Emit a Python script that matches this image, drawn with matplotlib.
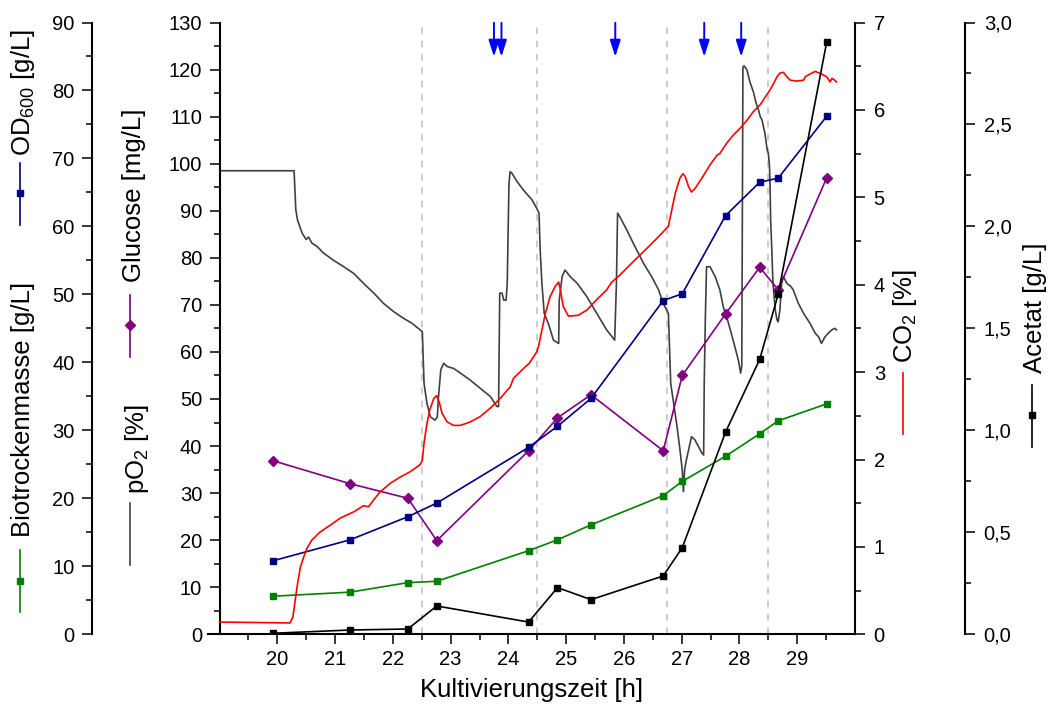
import matplotlib
matplotlib.use('Agg')
import matplotlib.pyplot as plt
from matplotlib.ticker import MultipleLocator, FixedLocator, FuncFormatter
from matplotlib.lines import Line2D

plt.rcParams['font.family'] = ['Liberation Sans', 'DejaVu Sans']
plt.rcParams['mathtext.default'] = 'regular'

# ---------------- data ----------------
sample_time = [19.92, 21.26, 22.26, 22.76, 24.35, 24.85, 25.43, 26.68, 27.01, 27.76, 28.35, 28.67, 29.51]
od600 = [10.8, 13.9, 17.3, 19.3, 27.5, 30.6, 34.7, 49.1, 50.1, 61.6, 66.5, 67.1, 76.2]
biotrockenmasse = [5.6, 6.2, 7.6, 7.8, 12.3, 13.9, 16.1, 20.4, 22.5, 26.2, 29.5, 31.4, 33.9]
glucose = [36.9, 32.0, 28.9, 19.9, 39.0, 46.0, 50.9, 39.0, 55.0, 68.1, 78.0, 73.2, 97.0]
acetat = [0.005, 0.021, 0.026, 0.139, 0.06, 0.229, 0.170, 0.286, 0.425, 0.992, 1.348, 1.667, 2.904]

po2_trace = [
    (19.01, 98.5), (20.29, 98.5), (20.32, 90.2), (20.35, 88.0), (20.43, 85.2), (20.50, 83.9),
    (20.54, 84.4), (20.60, 83.1), (20.69, 82.4), (20.80, 81.0), (20.97, 79.5), (21.15, 78.1),
    (21.32, 76.7), (21.49, 74.6), (21.67, 72.5), (21.84, 70.3), (22.01, 68.6), (22.19, 67.1),
    (22.33, 66.1), (22.47, 64.7), (22.51, 64.3), (22.52, 60.4), (22.54, 53.3), (22.59, 49.1),
    (22.65, 46.2), (22.73, 45.5), (22.77, 46.2), (22.79, 50.5), (22.83, 56.2), (22.88, 57.6),
    (22.94, 56.9), (23.05, 56.5), (23.17, 55.5), (23.34, 54.0), (23.51, 52.3), (23.69, 50.5),
    (23.80, 48.4), (23.83, 48.4), (23.85, 72.5), (23.89, 72.5), (23.92, 71.0), (23.96, 71.0),
    (23.98, 74.6), (24.01, 95.8), (24.03, 98.3), (24.06, 98.0), (24.15, 96.2), (24.26, 94.4),
    (24.41, 92.3), (24.49, 90.5), (24.53, 89.5), (24.55, 81.7), (24.58, 74.6), (24.62, 68.2),
    (24.69, 66.1), (24.78, 62.5), (24.87, 61.8), (24.88, 71.0), (24.93, 76.0), (24.98, 77.4),
    (25.07, 76.0), (25.19, 74.6), (25.36, 71.7), (25.53, 68.2), (25.70, 64.7), (25.84, 62.5),
    (25.87, 74.6), (25.89, 89.5), (25.93, 88.7), (26.05, 85.9), (26.19, 82.4), (26.34, 78.8),
    (26.48, 76.0), (26.60, 73.2), (26.68, 70.3), (26.77, 68.2), (26.79, 60.4), (26.81, 53.3),
    (26.86, 49.1), (26.92, 44.1), (26.97, 39.2), (27.01, 34.9), (27.03, 30.3), (27.05, 34.9),
    (27.08, 37.0), (27.12, 39.2), (27.17, 42.0), (27.23, 41.3), (27.29, 39.9), (27.35, 38.5),
    (27.38, 38.1), (27.39, 53.3), (27.41, 67.5), (27.43, 78.1), (27.49, 78.1), (27.58, 76.0),
    (27.66, 73.2), (27.72, 69.6), (27.81, 66.1), (27.89, 62.5), (27.98, 58.3), (28.02, 55.5),
    (28.04, 57.0), (28.06, 120.5), (28.08, 120.8), (28.13, 119.9), (28.18, 117.4), (28.24, 115.3),
    (28.29, 112.8), (28.33, 111.4), (28.36, 110.0), (28.39, 109.3), (28.44, 106.5), (28.48, 102.9),
    (28.50, 102.2), (28.52, 99.4), (28.53, 95.1), (28.54, 88.0), (28.56, 81.7), (28.58, 74.6),
    (28.62, 68.9), (28.65, 66.8), (28.67, 66.4), (28.70, 68.9), (28.73, 74.6), (28.76, 76.0),
    (28.82, 74.6), (28.89, 73.9), (28.93, 73.2), (29.02, 70.3), (29.11, 68.2), (29.22, 66.1),
    (29.31, 64.0), (29.37, 63.2), (29.42, 61.8), (29.48, 63.2), (29.54, 64.0), (29.60, 64.7),
    (29.65, 65.0), (29.68, 64.7),
]

co2_trace = [
    (19.01, 0.14), (20.22, 0.13), (20.27, 0.20), (20.31, 0.39), (20.35, 0.58), (20.40, 0.77),
    (20.46, 0.89), (20.51, 0.98), (20.60, 1.08), (20.74, 1.17), (20.92, 1.25), (21.09, 1.33),
    (21.32, 1.40), (21.49, 1.47), (21.58, 1.46), (21.67, 1.54), (21.78, 1.63), (21.96, 1.73),
    (22.13, 1.80), (22.30, 1.86), (22.47, 1.94), (22.51, 1.99), (22.54, 2.19), (22.59, 2.41),
    (22.64, 2.57), (22.71, 2.70), (22.76, 2.73), (22.81, 2.64), (22.85, 2.53), (22.94, 2.43),
    (23.05, 2.39), (23.17, 2.39), (23.34, 2.43), (23.51, 2.49), (23.69, 2.59), (23.86, 2.70),
    (24.03, 2.83), (24.09, 2.93), (24.26, 3.04), (24.36, 3.10), (24.49, 3.23), (24.52, 3.29),
    (24.58, 3.48), (24.64, 3.67), (24.72, 3.86), (24.81, 3.98), (24.87, 4.03), (24.90, 3.94),
    (24.95, 3.75), (25.04, 3.64), (25.21, 3.65), (25.36, 3.71), (25.53, 3.83), (25.70, 3.94),
    (25.79, 4.03), (25.93, 4.11), (26.11, 4.23), (26.28, 4.34), (26.45, 4.45), (26.63, 4.57),
    (26.77, 4.67), (26.83, 4.86), (26.89, 5.05), (26.97, 5.22), (27.02, 5.27), (27.06, 5.24),
    (27.12, 5.12), (27.17, 5.06), (27.23, 5.10), (27.35, 5.22), (27.49, 5.37), (27.61, 5.48),
    (27.66, 5.50), (27.78, 5.62), (27.89, 5.71), (28.01, 5.79), (28.13, 5.88), (28.24, 5.98),
    (28.36, 6.06), (28.47, 6.17), (28.53, 6.23), (28.59, 6.30), (28.65, 6.38), (28.70, 6.42),
    (28.76, 6.43), (28.82, 6.38), (28.88, 6.34), (28.99, 6.33), (29.11, 6.34), (29.14, 6.38),
    (29.22, 6.41), (29.31, 6.44), (29.39, 6.42), (29.51, 6.38), (29.57, 6.32), (29.60, 6.36),
    (29.63, 6.35), (29.68, 6.32),
]

phase_boundaries = [22.5, 24.5, 26.75, 28.5]
feed_times = [23.75, 23.88, 25.85, 27.39, 28.03]
x_major = [20, 21, 22, 23, 24, 25, 26, 27, 28, 29]
x_minor = [19.5, 20.5, 21.5, 22.5, 23.5, 24.5, 25.5, 26.5, 27.5, 28.5, 29.5]

# ---------------- styles ----------------
C_OD = '#000080'
C_BTM = '#008000'
C_GLC = '#800080'
C_PO2 = '#404040'
C_CO2 = '#ff0000'
C_AC = '#000000'
C_ARROW = '#0000ff'
TICK_FS = 14.5
LABEL_FS = 18.5
SPINE_LW = 1.5
LW = 1.2

W, H = 1052, 707
fig = plt.figure(figsize=(W / 100, H / 100), dpi=100)
ax = fig.add_axes([208 / W, 1 - 634.3 / H, 647 / W, 611.8 / H])
ax_od = ax.twinx()
ax_co2 = ax.twinx()
ax_ac = ax.twinx()


def style_axis(a, side, pos, ylim, major, minor, fmt=None):
    for s in a.spines.values():
        s.set_visible(False)
    a.spines[side].set_visible(True)
    a.spines[side].set_position(pos)
    a.spines[side].set_linewidth(SPINE_LW)
    a.set_ylim(*ylim)
    a.yaxis.set_major_locator(MultipleLocator(major))
    a.yaxis.set_minor_locator(MultipleLocator(minor))
    if side == 'left':
        a.yaxis.tick_left()
    else:
        a.yaxis.tick_right()
    a.tick_params(axis='y', which='major', direction='out', length=7.5, width=1.1,
                  labelsize=TICK_FS, pad=5)
    a.tick_params(axis='y', which='minor', direction='out', length=4.3, width=1.1)
    if fmt is not None:
        a.yaxis.set_major_formatter(fmt)


# host axis: glucose / pO2
for s in ['top', 'right']:
    ax.spines[s].set_visible(False)
ax.spines['left'].set_position(('data', 19.0))
ax.spines['left'].set_linewidth(SPINE_LW)
ax.spines['bottom'].set_linewidth(SPINE_LW)
ax.set_xlim(18.8, 30.0)
ax.set_ylim(0, 130)
ax.yaxis.set_major_locator(MultipleLocator(10))
ax.yaxis.set_minor_locator(MultipleLocator(5))
ax.xaxis.set_major_locator(FixedLocator(x_major))
ax.xaxis.set_minor_locator(FixedLocator(x_minor))
ax.tick_params(axis='both', which='major', direction='out', length=7.5, width=1.1,
               labelsize=TICK_FS)
ax.tick_params(axis='y', which='major', pad=5)
ax.tick_params(axis='x', which='major', pad=4)
ax.tick_params(axis='both', which='minor', direction='out', length=4.3, width=1.1)
ax.set_xlabel('Kultivierungszeit [h]', fontsize=LABEL_FS, labelpad=6)

style_axis(ax_od, 'left', ('axes', -0.1795), (0, 90), 10, 5)
style_axis(ax_co2, 'right', ('axes', 1.0), (0, 7), 1, 0.5)
style_axis(ax_ac, 'right', ('axes', 1.170), (0, 3), 0.5, 0.25,
           FuncFormatter(lambda v, p: f'{v:.1f}'.replace('.', ',')))
ax_co2.tick_params(axis='y', which='major', pad=6)
ax_ac.tick_params(axis='y', which='major', pad=6)

# phase boundaries
for t in phase_boundaries:
    ax.axvline(t, color='#c4c4c4', lw=1.2, ls=(0, (4, 4)), zorder=0)

# data
pt, pv = zip(*po2_trace)
ax.plot(pt, pv, color=C_PO2, lw=LW, zorder=2)
ax.plot(sample_time, glucose, color=C_GLC, lw=LW, marker='D', ms=5.5, zorder=4)
ax_od.plot(sample_time, od600, color=C_OD, lw=LW, marker='s', ms=4.5)
ax_od.plot(sample_time, biotrockenmasse, color=C_BTM, lw=LW, marker='s', ms=4.5)
ct, cv = zip(*co2_trace)
ax_co2.plot(ct, cv, color=C_CO2, lw=LW)
ax_ac.plot(sample_time, acetat, color=C_AC, lw=LW, marker='s', ms=4.5)

# feed arrows
for t in feed_times:
    ax_ac.annotate('', xy=(t, 0.944), xycoords=('data', 'axes fraction'),
                   xytext=(t, 0.9995), textcoords=('data', 'axes fraction'),
                   arrowprops=dict(arrowstyle='-|>,head_length=1.0,head_width=0.32',
                                   color=C_ARROW, lw=1.4, mutation_scale=10,
                                   shrinkA=0, shrinkB=0))

# axis titles with legend symbols


def ftext(x, y, s, **kw):
    fig.text(x / W, 1 - y / H, s, rotation=90, ha='center', va='center',
             fontsize=LABEL_FS, **kw)


def fsym(x, y1, y2, color, marker=None, ym=None, ms=4.5):
    fig.add_artist(Line2D([x / W, x / W], [1 - y1 / H, 1 - y2 / H], color=color, lw=LW,
                          transform=fig.transFigure))
    if marker is not None:
        fig.add_artist(Line2D([x / W], [1 - ym / H], color=color, marker=marker, ms=ms,
                              transform=fig.transFigure))


ftext(23, 92, 'OD$_{600}$ [g/L]')
fsym(20, 163, 225, C_OD, 's', 193)
ftext(23, 409, 'Biotrockenmasse [g/L]')
fsym(20, 550, 612, C_BTM, 's', 581)
ftext(134, 195, 'Glucose [mg/L]')
fsym(130, 295, 357, C_GLC, 'D', 325, 5.5)
ftext(137, 449, 'pO$_2$ [%]')
fsym(130, 503, 565, C_PO2)
ftext(905, 316, 'CO$_2$ [%]')
fsym(903, 373, 434, C_CO2)
ftext(1035, 308, 'Acetat [g/L]')
fsym(1032, 385, 447, C_AC, 's', 415)

fig.savefig('out.png', dpi=100)
